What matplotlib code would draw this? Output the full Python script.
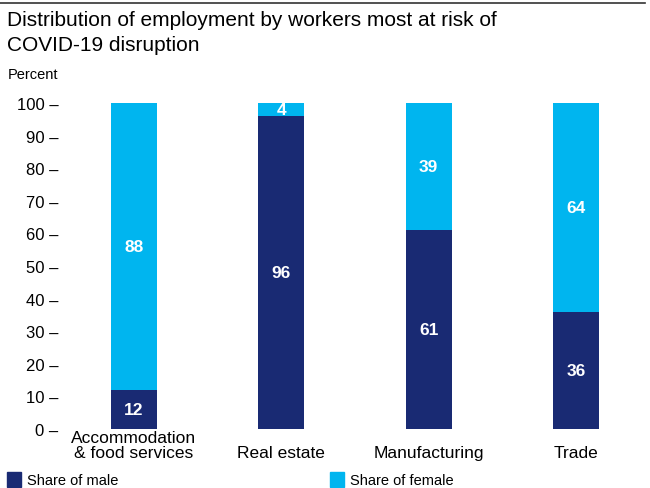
import matplotlib.pyplot as plt
from matplotlib.patches import Rectangle
from matplotlib.lines import Line2D

plt.rcParams['font.family'] = ['Liberation Sans', 'DejaVu Sans']

categories = ["Accommodation\n& food services", "Real estate", "Manufacturing", "Trade"]
male = [12, 96, 61, 36]
female = [88, 4, 39, 64]
yticks = [0, 10, 20, 30, 40, 50, 60, 70, 80, 90, 100]

navy = '#192a73'
cyan = '#00b5ef'

fig = plt.figure(figsize=(6.5, 4.89), dpi=100)
ax = fig.add_axes([60 / 650, 59 / 489, 590 / 650, 326 / 489])

x = list(range(len(categories)))
w = 0.31
ax.bar(x, male, width=w, color=navy)
ax.bar(x, female, width=w, bottom=male, color=cyan)

# value labels in the middle of each segment
for i in x:
    ax.text(i, male[i] / 2, str(male[i]), ha='center', va='center',
            color='white', fontsize=12.5, fontweight='bold')
    ax.text(i, male[i] + female[i] / 2, str(female[i]), ha='center', va='center',
            color='white', fontsize=12.5, fontweight='bold')

ax.set_xlim(-0.5, 3.5)
ax.set_ylim(0, 100)
ax.set_yticks(yticks)
ax.set_yticklabels([f"{v} \u2013" for v in yticks], fontsize=12)
ax.tick_params(axis='y', length=0, pad=1)
ax.set_xticks(x)
labels = [c if "\n" in c else "\n" + c for c in categories]
ax.set_xticklabels(labels, fontsize=12.5, linespacing=0.95)
ax.tick_params(axis='x', length=0, pad=1)
for s in ax.spines.values():
    s.set_visible(False)

# top rule and titles
fig.add_artist(Line2D([0, 645 / 650], [1 - 4 / 489, 1 - 4 / 489], color='#333333', lw=1.2))
fig.text(7 / 650, 1 - 11 / 489, "Distribution of employment by workers most at risk of\nCOVID-19 disruption",
         ha='left', va='top', fontsize=15, linespacing=1.4)
fig.text(8 / 650, 1 - 68 / 489, "Percent", ha='left', va='top', fontsize=10.5)

# legend along the bottom
fig.add_artist(Rectangle((7 / 650, 1 / 489), 14 / 650, 15 / 489, color=navy, transform=fig.transFigure))
fig.text(27 / 650, 8 / 489, "Share of male", ha='left', va='center', fontsize=10.5)
fig.add_artist(Rectangle((330 / 650, 1 / 489), 14 / 650, 15 / 489, color=cyan, transform=fig.transFigure))
fig.text(350 / 650, 8 / 489, "Share of female", ha='left', va='center', fontsize=10.5)

fig.savefig("out.png", dpi=100)
